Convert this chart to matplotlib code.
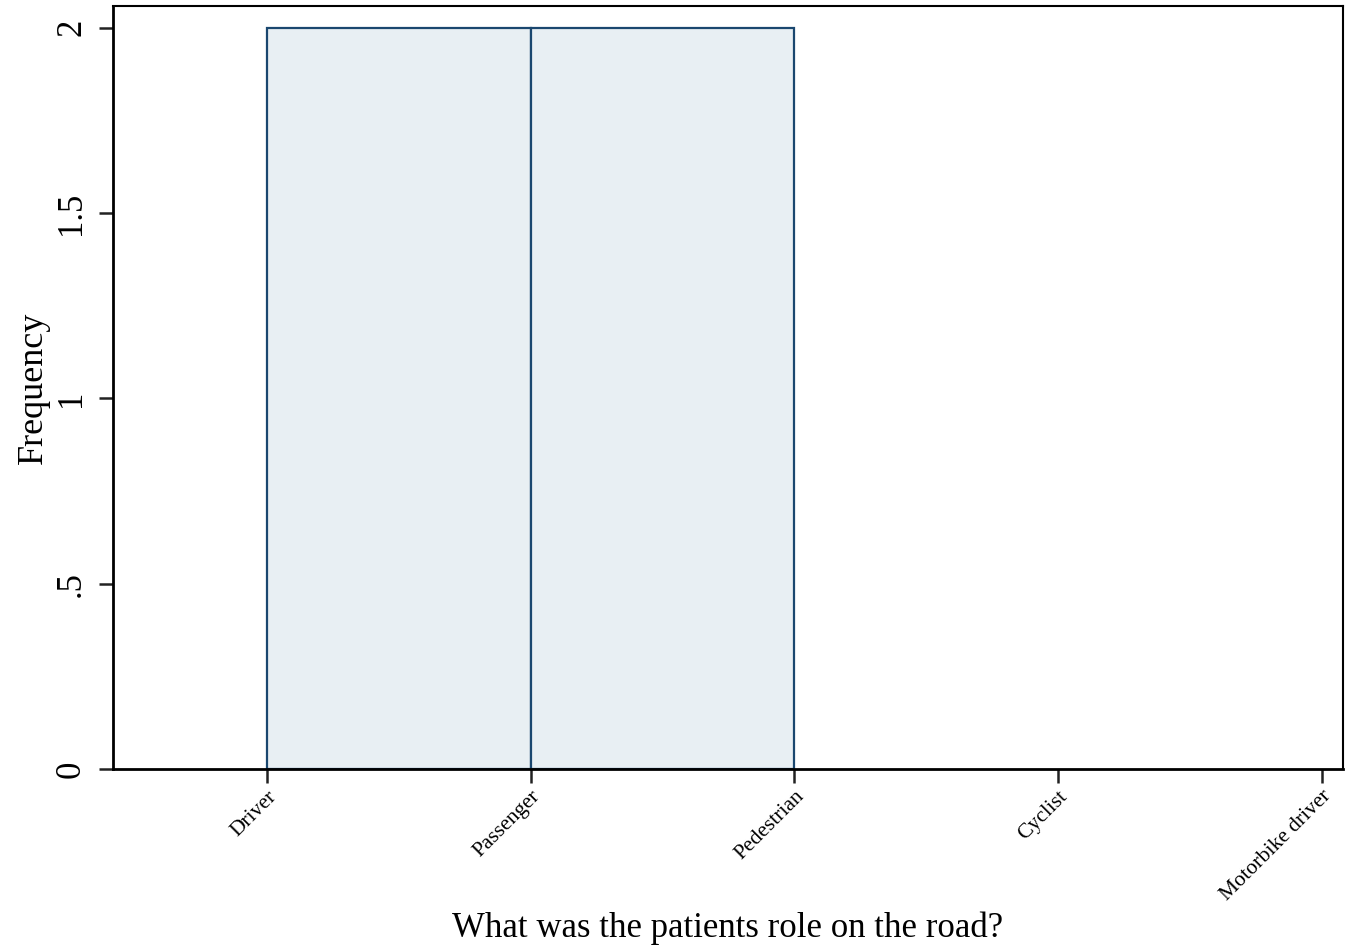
import matplotlib
matplotlib.use("Agg")
from matplotlib import pyplot as plt

roles = ["Driver", "Passenger", "Pedestrian", "Cyclist", "Motorbike driver"]
role_codes = [1, 2, 3, 4, 5]
bin_left = [1, 2]
counts = [2, 2]

plt.rcParams["font.family"] = ["Liberation Serif", "DejaVu Serif"]

fig = plt.figure(figsize=(13.49, 9.49), dpi=100)
ax = fig.add_axes([0.0838, 0.1897, 0.9117, 0.804])

ax.bar(bin_left, counts, width=1, align="edge", color="#e8eff3",
       edgecolor="#1a476f", linewidth=1.6)

ax.set_xlim(0.416, 5.08)
ax.set_ylim(0, 2.059)
ax.set_yticks([0, 0.5, 1, 1.5, 2])
ax.set_yticklabels(["0", ".5", "1", "1.5", "2"], rotation=90, va="center", fontsize=25)
ax.set_xticks(role_codes)
ax.set_xticklabels(roles, rotation=45, ha="right", rotation_mode="anchor", fontsize=15.5)
ax.tick_params(axis="both", direction="out", length=10, width=1.8, color="#222222")
ax.tick_params(axis="y", pad=8)
ax.tick_params(axis="x", pad=3)

for side in ["top", "right"]:
    ax.spines[side].set_linewidth(1.5)
for side in ["left", "bottom"]:
    ax.spines[side].set_linewidth(2.0)

ax.set_ylabel("Frequency", fontsize=26, labelpad=4)
ax.set_xlabel("What was the patients role on the road?", fontsize=25, labelpad=5)

fig.savefig("out.png", dpi=100)
